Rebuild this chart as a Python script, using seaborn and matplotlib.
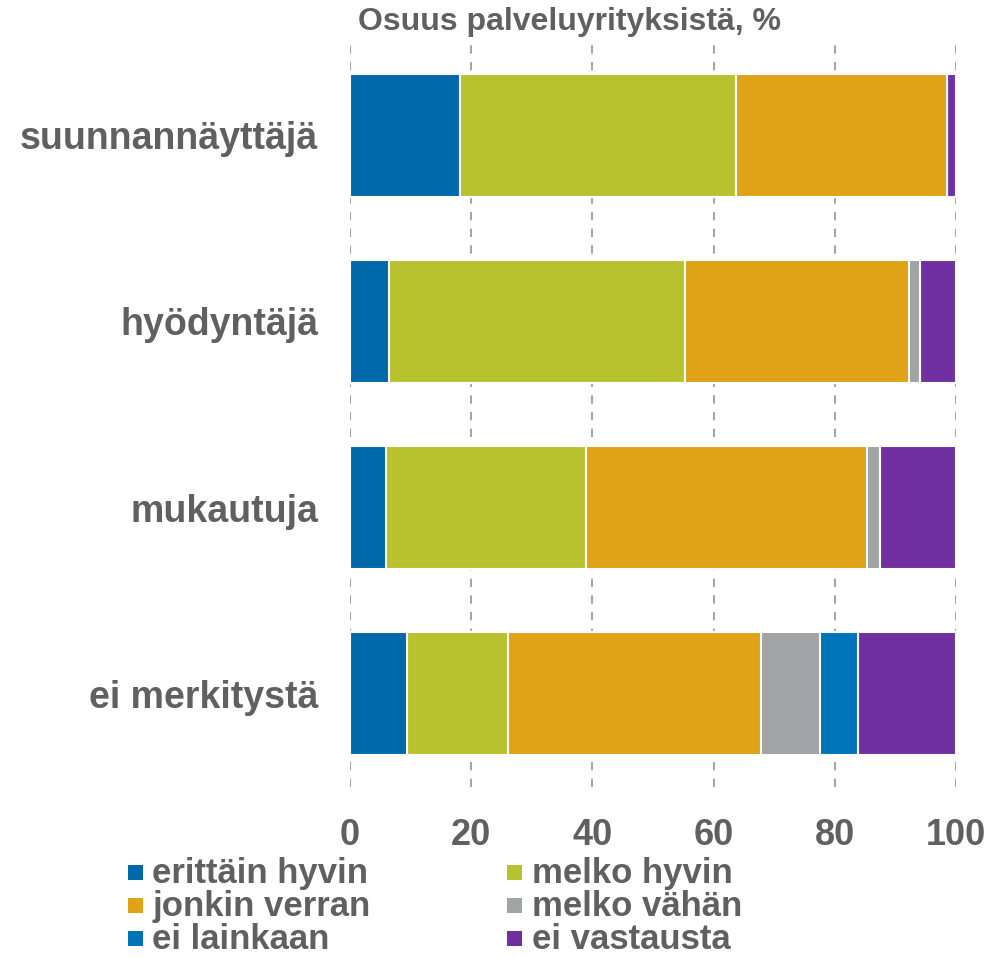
import matplotlib
matplotlib.use("Agg")
import matplotlib.pyplot as plt
import seaborn as sns
import pandas as pd
import numpy as np
from matplotlib.patches import Rectangle

categories = ["suunnannäyttäjä", "hyödyntäjä", "mukautuja", "ei merkitystä"]
series_names = ["erittäin hyvin", "melko hyvin", "jonkin verran", "melko vähän", "ei lainkaan", "ei vastausta"]
erittain_hyvin = [18.2, 6.5, 5.9, 9.4]
melko_hyvin = [45.5, 48.8, 33.0, 16.7]
jonkin_verran = [34.8, 36.9, 46.4, 41.8]
melko_vahan = [0.0, 1.9, 2.1, 9.7]
ei_lainkaan = [0.0, 0.0, 0.0, 6.3]
ei_vastausta = [1.5, 5.9, 12.6, 16.1]
xticks = [0, 20, 40, 60, 80, 100]
title = "Osuus palveluyrityksistä, %"

colors = ["#0069AA", "#B8C22F", "#E0A216", "#A2A3A4", "#0074B8", "#7030A0"]
text_color = "#606060"

sns.set_theme(style="white")
plt.rcParams["font.family"] = ["Liberation Sans", "DejaVu Sans"]

values = [erittain_hyvin, melko_hyvin, jonkin_verran, melko_vahan, ei_lainkaan, ei_vastausta]
cum = np.cumsum(np.array(values), axis=0)

W, H = 1008, 958
fig = plt.figure(figsize=(W / 100, H / 100), dpi=100)
ax = fig.add_axes([350 / W, 1 - 787 / H, 606 / W, 745 / H])

for xv in xticks:
    ax.axvline(xv, color="#A6A6A6", lw=1.5, ls=(0, (4, 4)), zorder=0)

for i in range(len(series_names) - 1, -1, -1):
    df = pd.DataFrame({"cat": categories, "val": cum[i]})
    sns.barplot(data=df, y="cat", x="val", orient="h", color=colors[i],
                width=0.66, edgecolor="white", linewidth=1.5, ax=ax,
                saturation=1, zorder=2)

ax.set_xlim(0, 100)
ax.set_ylim(3.5, -0.5)
ax.set_xticks(xticks)
ax.set_xticklabels([str(v) for v in xticks], fontsize=26, fontweight="bold", color=text_color)
ax.set_yticks(range(len(categories)))
ax.set_yticklabels(categories, fontsize=27, fontweight="bold", color=text_color)
ax.tick_params(axis="x", length=0, pad=22)
ax.tick_params(axis="y", length=0, pad=23)
ax.set_xlabel("")
ax.set_ylabel("")
for s in ax.spines.values():
    s.set_visible(False)
ax.grid(False)

fig.text(569 / W, 1 - 22 / H, title, ha="center", va="center", fontsize=23,
         fontweight="bold", color=text_color)

# legend (two columns, three rows)
order = [[0, 2, 4], [1, 3, 5]]
col_marker_x = [128, 507]
col_text_x = [152, 532]
row_baseline = [883, 916, 949]
msize = 15
for c, idxs in enumerate(order):
    for r, k in enumerate(idxs):
        yb = row_baseline[r]
        fig.add_artist(Rectangle((col_marker_x[c] / W, 1 - (yb - 3) / H), msize / W, msize / H,
                                 transform=fig.transFigure, facecolor=colors[k],
                                 edgecolor="none"))
        fig.text(col_text_x[c] / W, 1 - yb / H, series_names[k], ha="left", va="baseline",
                 fontsize=25, fontweight="bold", color=text_color)

fig.savefig("out.png", dpi=100)
